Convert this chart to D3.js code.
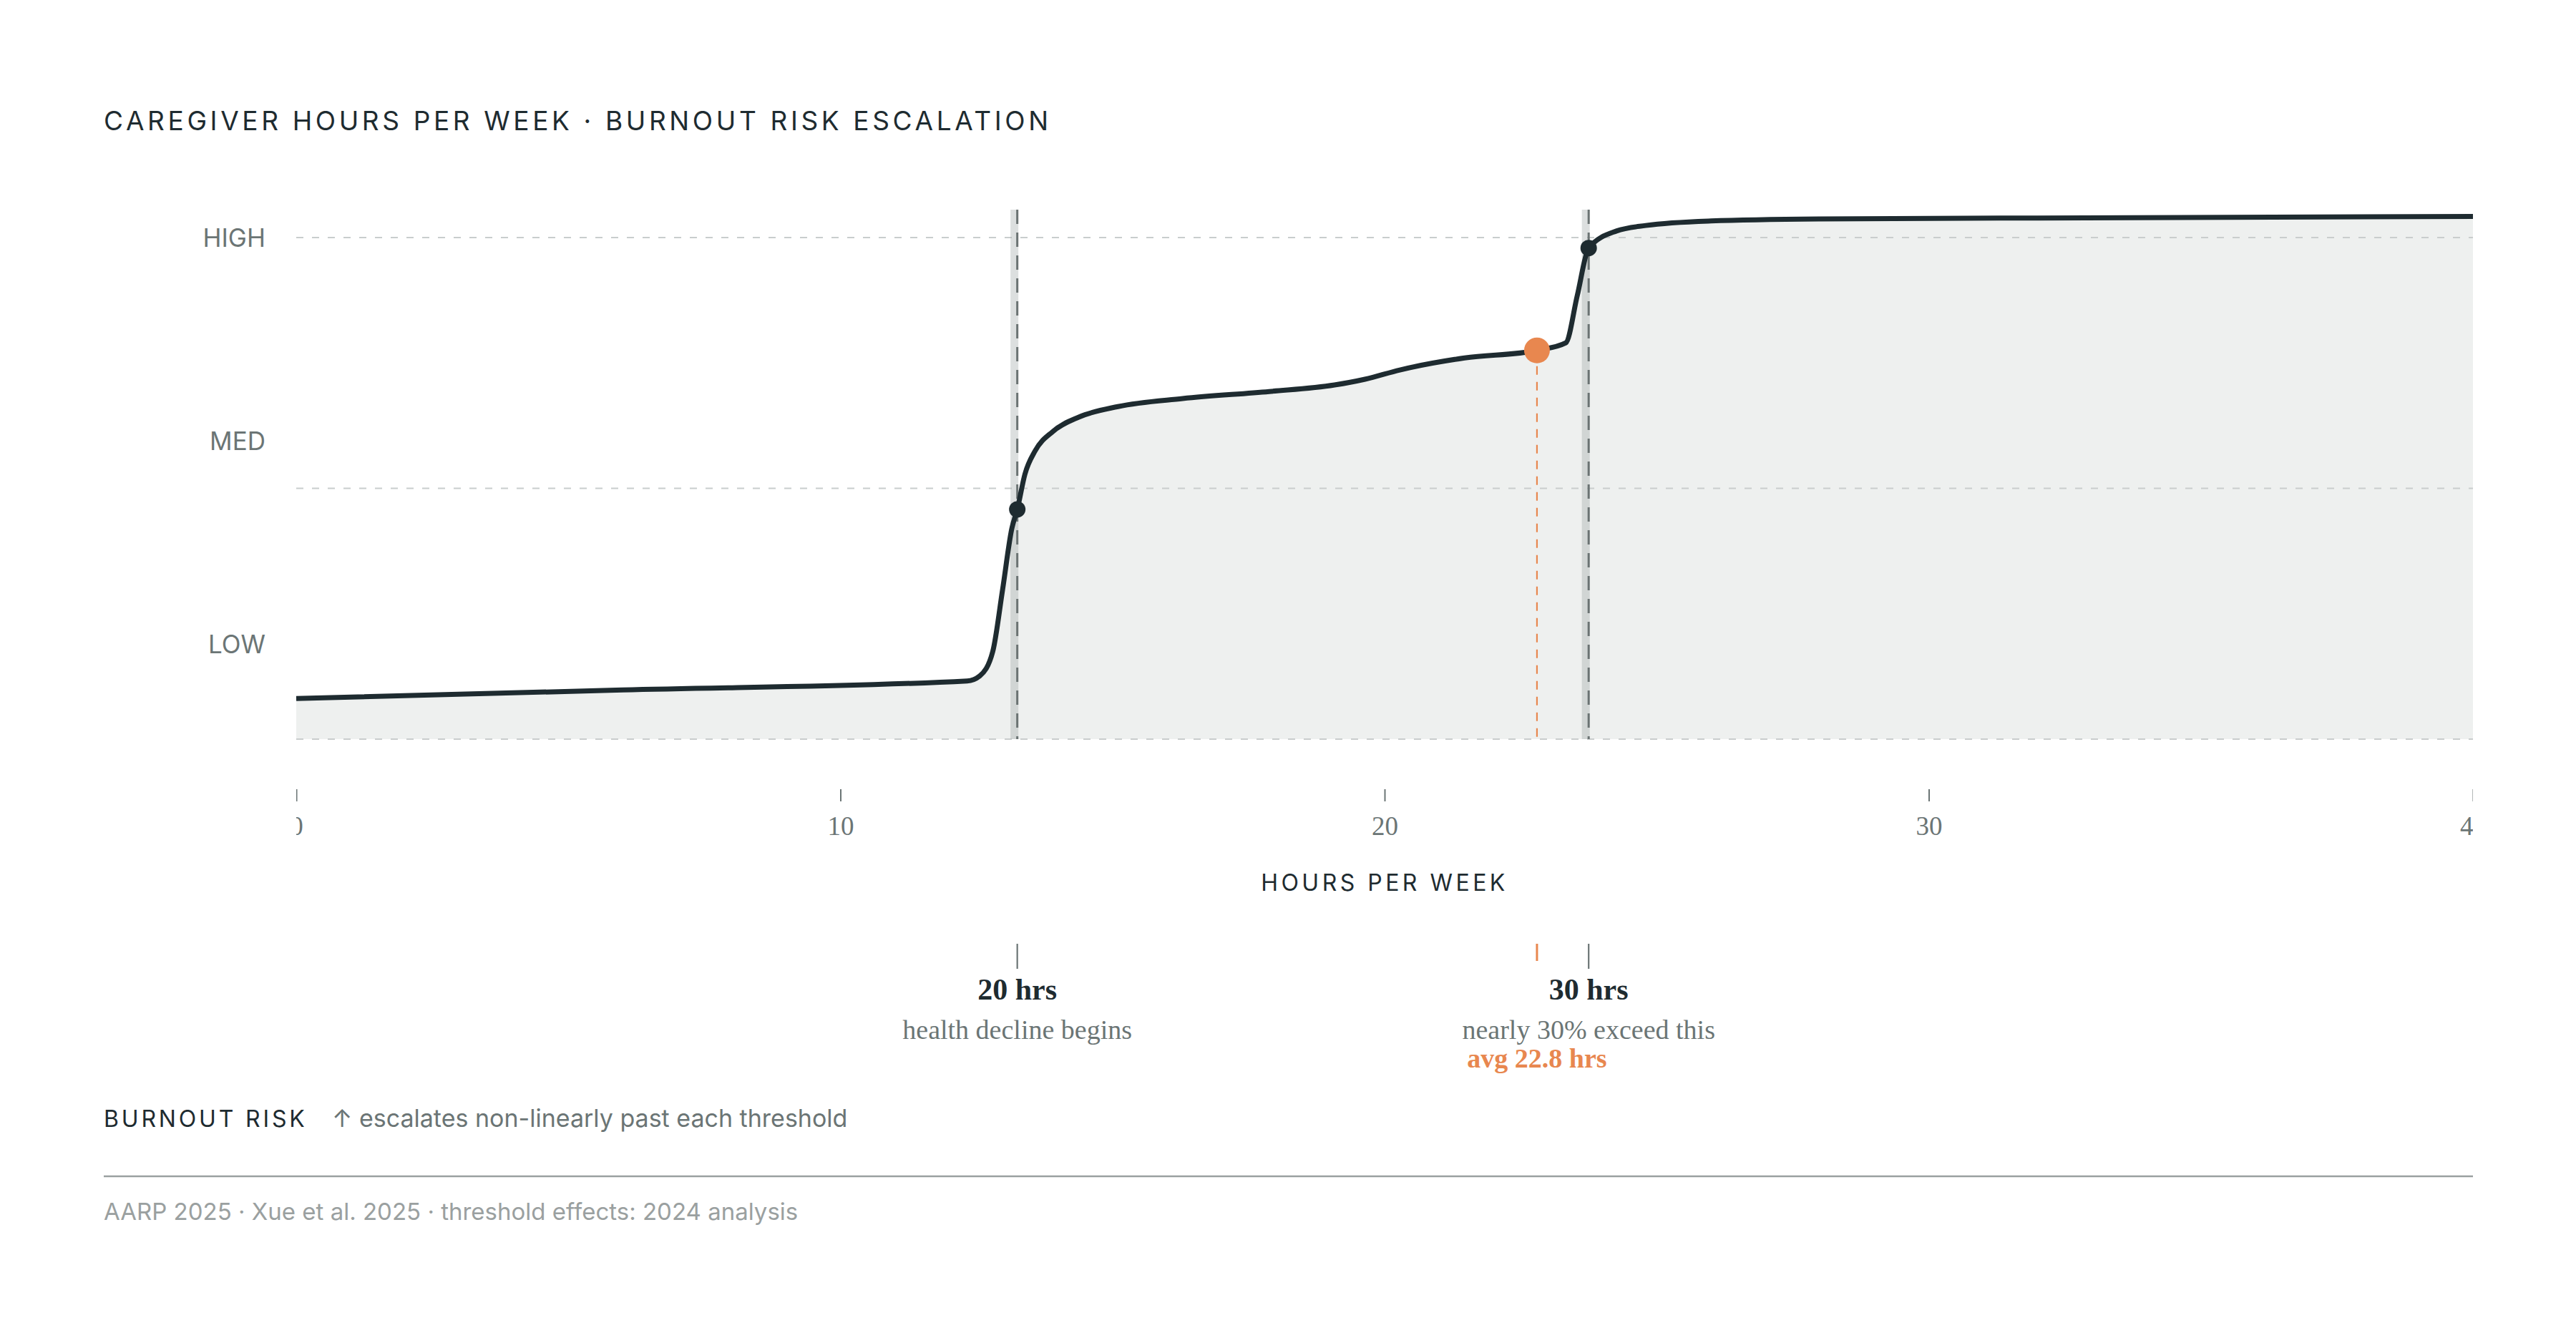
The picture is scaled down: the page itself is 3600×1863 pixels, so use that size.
<!DOCTYPE html>
<html>
<head>
<meta charset="utf-8">
<script src="https://cdn.jsdelivr.net/npm/d3@7"></script>
<style>
  body { margin: 0; background: #fff; }
  .sans { font-family: Inter, "Noto Sans", sans-serif; }
  .serif { font-family: "Liberation Serif", "DejaVu Serif", serif; }
</style>
</head>
<body>
<svg id="chart" width="3600" height="1863"></svg>
<script>
// risk curve
const hours = [0, 6, 12.33, 12.56, 12.8, 12.98, 13.15, 13.25, 13.39, 13.58, 13.9, 14.38, 15.1, 16.29, 17.88,
  19.08, 19.64, 20.28, 21.47, 22.8, 23.33, 23.54, 23.75, 24.26, 24.8, 26, 28, 32, 40];
const risk = [0.081, 0.098, 0.116, 0.126, 0.175, 0.298, 0.42, 0.458, 0.528, 0.575, 0.613, 0.642, 0.663, 0.679, 0.693,
  0.706, 0.7175, 0.736, 0.76, 0.775, 0.79, 0.884, 0.979, 1.013, 1.024, 1.033, 1.037, 1.039, 1.042];

const xTicks = [0, 10, 20, 30, 40];
const gridLevels = [0, 0.5, 1];
const riskLevels = [0.19, 0.595, 1.0];
const riskLabels = ["LOW", "MED", "HIGH"];

const thresholdHours = [13.25, 23.75];
const thresholdRisk = [0.458, 0.979];
const thresholdLabels = ["20 hrs", "30 hrs"];
const thresholdNotes = ["health decline begins", "nearly 30% exceed this"];

const avgHours = 22.8;
const avgRisk = 0.775;
const avgLabel = "avg 22.8 hrs";

const dark = "#1e2b30", grey = "#6b7575", light = "#9aa0a0", orange = "#e8874f";

const svg = d3.select("#chart");
const plotL = 414, plotR = 3456, plotT = 293, plotB = 1033;

const x = d3.scaleLinear().domain([0, 40]).range([plotL, plotR]);
const y = d3.scaleLinear().domain([0, 1.0556]).range([plotB, plotT]);

// title
svg.append("text").attr("class", "sans")
  .attr("x", 145).attr("y", 182)
  .attr("font-size", 37).attr("letter-spacing", "0.125em")
  .attr("fill", dark)
  .text("CAREGIVER HOURS PER WEEK · BURNOUT RISK ESCALATION");

const pts = hours.map((h, i) => ({h: h, r: risk[i]}));

// area under curve
svg.append("path")
  .datum(pts)
  .attr("fill", "#eef0ef")
  .attr("d", d3.area().x(d => x(d.h)).y0(y(0)).y1(d => y(d.r)).curve(d3.curveMonotoneX));

// grid
svg.append("g").selectAll("line")
  .data(gridLevels).join("line")
  .attr("x1", plotL).attr("x2", plotR)
  .attr("y1", d => y(d)).attr("y2", d => y(d))
  .attr("stroke", "#c9cdcd").attr("stroke-width", 2)
  .attr("stroke-dasharray", "10 12");

// risk labels
svg.append("g").selectAll("text")
  .data(riskLevels).join("text")
  .attr("class", "sans")
  .attr("x", 371).attr("y", d => y(d))
  .attr("text-anchor", "end").attr("dominant-baseline", "central")
  .attr("font-size", 35).attr("fill", grey)
  .text((d, i) => riskLabels[i]);

// threshold bands + dashed lines
const th = svg.append("g");
th.selectAll("rect")
  .data(thresholdHours).join("rect")
  .attr("x", d => x(d) - 9.5).attr("width", 11)
  .attr("y", plotT).attr("height", plotB - plotT)
  .attr("fill", "#9aa3a3").attr("opacity", 0.35);
th.selectAll("line")
  .data(thresholdHours).join("line")
  .attr("x1", d => x(d)).attr("x2", d => x(d))
  .attr("y1", plotT).attr("y2", plotB)
  .attr("stroke", "#6b7373").attr("stroke-width", 3)
  .attr("stroke-dasharray", "20 12");

// average marker line
svg.append("line")
  .attr("x1", x(avgHours)).attr("x2", x(avgHours))
  .attr("y1", y(avgRisk)).attr("y2", y(0))
  .attr("stroke", orange).attr("stroke-width", 2.2)
  .attr("stroke-dasharray", "12 10");

// curve
svg.append("path")
  .datum(pts)
  .attr("fill", "none")
  .attr("stroke", dark).attr("stroke-width", 7)
  .attr("stroke-linejoin", "round")
  .attr("d", d3.line().x(d => x(d.h)).y(d => y(d.r)).curve(d3.curveMonotoneX));

// dots
svg.append("g").selectAll("circle")
  .data(thresholdHours).join("circle")
  .attr("cx", d => x(d)).attr("cy", (d, i) => y(thresholdRisk[i]))
  .attr("r", 11.5).attr("fill", dark);
svg.append("circle")
  .attr("cx", x(avgHours)).attr("cy", y(avgRisk))
  .attr("r", 18).attr("fill", orange);

// x axis, clipped to the plot width
svg.append("clipPath").attr("id", "axclip")
  .append("rect").attr("x", plotL).attr("y", -50).attr("width", plotR - plotL).attr("height", 200);
const ax = svg.append("g")
  .attr("transform", "translate(0,1103)")
  .attr("clip-path", "url(#axclip)")
  .call(d3.axisBottom(x).tickValues(xTicks).tickSize(17).tickPadding(21).tickFormat(d3.format("d")));
ax.select(".domain").remove();
ax.selectAll(".tick line").attr("stroke", grey).attr("stroke-width", 2);
ax.selectAll(".tick text").attr("class", "serif").attr("font-size", 37).attr("fill", grey);
ax.attr("font-family", null);

svg.append("text").attr("class", "sans")
  .attr("x", (plotL + plotR) / 2).attr("y", 1245)
  .attr("text-anchor", "middle")
  .attr("font-size", 32).attr("letter-spacing", "0.14em")
  .attr("fill", dark)
  .text("HOURS PER WEEK");

// threshold annotations
const ann = svg.append("g");
ann.selectAll("line")
  .data(thresholdHours).join("line")
  .attr("x1", d => x(d)).attr("x2", d => x(d))
  .attr("y1", 1319).attr("y2", 1354)
  .attr("stroke", grey).attr("stroke-width", 2.2);
ann.selectAll("text.lbl")
  .data(thresholdHours).join("text")
  .attr("class", "serif lbl")
  .attr("x", d => x(d)).attr("y", 1397)
  .attr("text-anchor", "middle")
  .attr("font-size", 42).attr("font-weight", "bold").attr("fill", dark)
  .text((d, i) => thresholdLabels[i]);
ann.selectAll("text.note")
  .data(thresholdHours).join("text")
  .attr("class", "serif note")
  .attr("x", d => x(d)).attr("y", 1452)
  .attr("text-anchor", "middle")
  .attr("font-size", 38).attr("fill", grey)
  .text((d, i) => thresholdNotes[i]);

svg.append("line")
  .attr("x1", x(avgHours)).attr("x2", x(avgHours))
  .attr("y1", 1319).attr("y2", 1343)
  .attr("stroke", orange).attr("stroke-width", 3);
svg.append("text").attr("class", "serif")
  .attr("x", x(avgHours)).attr("y", 1492)
  .attr("text-anchor", "middle")
  .attr("font-size", 38).attr("font-weight", "bold").attr("fill", orange)
  .text(avgLabel);

// legend
svg.append("text").attr("class", "sans")
  .attr("x", 145).attr("y", 1575)
  .attr("font-size", 32).attr("letter-spacing", "0.12em")
  .attr("fill", dark)
  .text("BURNOUT RISK");
svg.append("text").attr("class", "sans")
  .attr("x", 464).attr("y", 1575)
  .attr("font-size", 34).attr("fill", grey)
  .text("↑ escalates non-linearly past each threshold");

// footer
svg.append("line")
  .attr("x1", 145).attr("x2", plotR)
  .attr("y1", 1644).attr("y2", 1644)
  .attr("stroke", light).attr("stroke-width", 2.5);
svg.append("text").attr("class", "sans")
  .attr("x", 145).attr("y", 1705)
  .attr("font-size", 33).attr("fill", light)
  .text("AARP 2025 · Xue et al. 2025 · threshold effects: 2024 analysis");
</script>
</body>
</html>
